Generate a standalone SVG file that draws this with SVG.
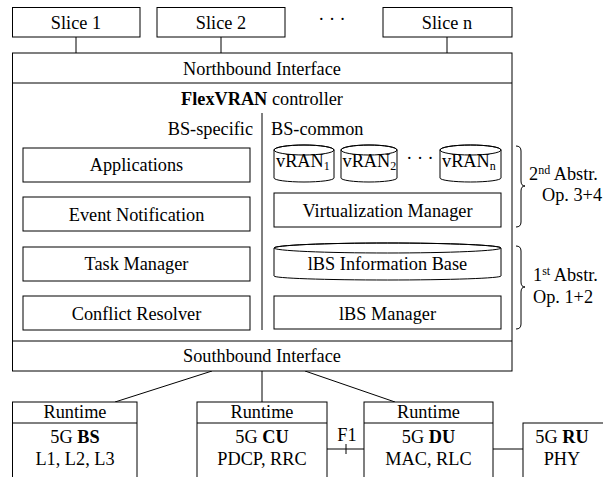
<svg xmlns="http://www.w3.org/2000/svg" width="603" height="477" viewBox="0 0 603 477">
<style>
  .b{fill:#fff;stroke:#000;stroke-width:1}
  .l{fill:none;stroke:#000;stroke-width:1}
  .t{font-family:'Liberation Serif';font-size:18.3px;fill:#000}
  .c{text-anchor:middle}
  .s{font-size:12px}
  .bd{font-weight:bold}
</style>
<rect x="0" y="0" width="603" height="477" fill="#fff"/>
<g id="connectors">
  <line class="l" x1="76" y1="37" x2="76" y2="53"/>
  <line class="l" x1="221" y1="37" x2="221" y2="53"/>
  <line class="l" x1="447" y1="37" x2="447" y2="53"/>
  <line class="l" x1="212" y1="371" x2="115" y2="402"/>
  <line class="l" x1="262" y1="371" x2="262" y2="402"/>
  <line class="l" x1="305" y1="371" x2="395" y2="402"/>
  <line class="l" x1="327" y1="449" x2="364" y2="449"/>
  <line class="l" x1="346" y1="444" x2="346" y2="454"/>
  <text x="347" y="441" class="t c" font-family="Liberation Serif">F1</text>
  <line class="l" x1="493" y1="449" x2="523" y2="449"/>
</g>
<g id="slice1"><rect class="b" x="12.5" y="7.5" width="127.5" height="29.5"/><text x="76" y="28.5" class="t c" font-family="Liberation Serif">Slice 1</text></g>
<g id="slice2"><rect class="b" x="157" y="7.5" width="128" height="29.5"/><text x="221" y="28.5" class="t c" font-family="Liberation Serif">Slice 2</text></g>
<text x="332" y="25" class="t c" font-family="Liberation Serif">· · ·</text>
<g id="slicen"><rect class="b" x="383" y="7.5" width="129" height="29.5"/><text x="447" y="28.5" class="t c" font-family="Liberation Serif">Slice n</text></g>
<g id="controller">
  <rect class="b" x="12.5" y="53" width="499.5" height="318"/>
  <line class="l" x1="12.5" y1="83" x2="512" y2="83"/>
  <line class="l" x1="12.5" y1="341" x2="512" y2="341"/>
  <text x="262" y="74.5" class="t c" font-family="Liberation Serif">Northbound Interface</text>
  <text x="262" y="105" class="t c" font-family="Liberation Serif"><tspan class="bd">FlexVRAN</tspan> controller</text>
  <line class="l" x1="262" y1="113" x2="262" y2="330"/>
  <text x="253" y="135" class="t" text-anchor="end" font-family="Liberation Serif">BS-specific</text>
  <text x="271" y="135" class="t" font-family="Liberation Serif">BS-common</text>
  <text x="262" y="362" class="t c" font-family="Liberation Serif">Southbound Interface</text>
</g>
<g id="applications"><rect class="b" x="23" y="148" width="227" height="34"/><text x="136.5" y="171" class="t c" font-family="Liberation Serif">Applications</text></g>
<g id="event-notification"><rect class="b" x="23" y="197" width="227" height="34"/><text x="136.5" y="220.5" class="t c" font-family="Liberation Serif">Event Notification</text></g>
<g id="task-manager"><rect class="b" x="23" y="247" width="227" height="34"/><text x="136.5" y="270" class="t c" font-family="Liberation Serif">Task Manager</text></g>
<g id="conflict-resolver"><rect class="b" x="23" y="296" width="227" height="34"/><text x="136.5" y="319.5" class="t c" font-family="Liberation Serif">Conflict Resolver</text></g>
<g id="vran1">
  <path class="b" d="M274,150 A30,5 0 0 1 334,150 L334,178 A30,4 0 0 1 274,178 Z"/>
  <ellipse class="l" cx="304" cy="150" rx="30" ry="5"/>
  <text x="276" y="167" class="t" font-family="Liberation Serif">vRAN<tspan class="s" dy="3">1</tspan></text>
</g>
<g id="vran2">
  <path class="b" d="M341,150 A28,5 0 0 1 397,150 L397,178 A28,4 0 0 1 341,178 Z"/>
  <ellipse class="l" cx="369" cy="150" rx="28" ry="5"/>
  <text x="342.5" y="167" class="t" font-family="Liberation Serif">vRAN<tspan class="s" dy="3">2</tspan></text>
</g>
<text x="420" y="164" class="t c" font-family="Liberation Serif">· · ·</text>
<g id="vrann">
  <path class="b" d="M440,150 A30.5,5 0 0 1 501,150 L501,178 A30.5,4 0 0 1 440,178 Z"/>
  <ellipse class="l" cx="470.5" cy="150" rx="30.5" ry="5"/>
  <text x="442" y="167" class="t" font-family="Liberation Serif">vRAN<tspan class="s" dy="3">n</tspan></text>
</g>
<g id="virtualization-manager"><rect class="b" x="274" y="193" width="227" height="34"/><text x="387.5" y="216.5" class="t c" font-family="Liberation Serif">Virtualization Manager</text></g>
<g id="lbs-information-base">
  <path class="b" d="M274,248 A113.5,5 0 0 1 501,248 L501,276 A113.5,4 0 0 1 274,276 Z"/>
  <ellipse class="l" cx="387.5" cy="248" rx="113.5" ry="5"/>
  <text x="387.5" y="270" class="t c" font-family="Liberation Serif">lBS Information Base</text>
</g>
<g id="lbs-manager"><rect class="b" x="274" y="296" width="227" height="33"/><text x="387.5" y="319.5" class="t c" font-family="Liberation Serif">lBS Manager</text></g>
<g id="abstraction2">
  <path class="l" d="M516,146 Q521,146 521,151 L521,181 Q521,186 525,186 Q521,186 521,191 L521,222 Q521,227 516,227"/>
  <text x="529" y="180" class="t" font-family="Liberation Serif">2<tspan class="s" dy="-6">nd</tspan><tspan dy="6"> Abstr.</tspan></text>
  <text x="542" y="201" class="t" font-family="Liberation Serif">Op. 3+4</text>
</g>
<g id="abstraction1">
  <path class="l" d="M516,246 Q521,246 521,251 L521,282 Q521,287 525,287 Q521,287 521,292 L521,324 Q521,329 516,329"/>
  <text x="533" y="281" class="t" font-family="Liberation Serif">1<tspan class="s" dy="-6">st</tspan><tspan dy="6"> Abstr.</tspan></text>
  <text x="533" y="303" class="t" font-family="Liberation Serif">Op. 1+2</text>
</g>
<g id="bs">
  <rect class="b" x="12.5" y="402" width="124.5" height="80"/>
  <line class="l" x1="12.5" y1="423" x2="137" y2="423"/>
  <text x="75" y="418" class="t c" font-family="Liberation Serif">Runtime</text>
  <text x="75" y="443" class="t c" font-family="Liberation Serif">5G <tspan class="bd">BS</tspan></text>
  <text x="75" y="465" class="t c" font-family="Liberation Serif">L1, L2, L3</text>
</g>
<g id="cu">
  <rect class="b" x="197" y="402" width="130" height="80"/>
  <line class="l" x1="197" y1="423" x2="327" y2="423"/>
  <text x="262" y="418" class="t c" font-family="Liberation Serif">Runtime</text>
  <text x="262" y="443" class="t c" font-family="Liberation Serif">5G <tspan class="bd">CU</tspan></text>
  <text x="262" y="465" class="t c" font-family="Liberation Serif">PDCP, RRC</text>
</g>
<g id="du">
  <rect class="b" x="364" y="402" width="129" height="80"/>
  <line class="l" x1="364" y1="423" x2="493" y2="423"/>
  <text x="428.5" y="418" class="t c" font-family="Liberation Serif">Runtime</text>
  <text x="428.5" y="443" class="t c" font-family="Liberation Serif">5G <tspan class="bd">DU</tspan></text>
  <text x="428.5" y="465" class="t c" font-family="Liberation Serif">MAC, RLC</text>
</g>
<g id="ru">
  <rect class="b" x="523" y="423" width="90" height="60"/>
  <text x="562" y="443" class="t c" font-family="Liberation Serif">5G <tspan class="bd">RU</tspan></text>
  <text x="562" y="465" class="t c" font-family="Liberation Serif">PHY</text>
</g>
</svg>
